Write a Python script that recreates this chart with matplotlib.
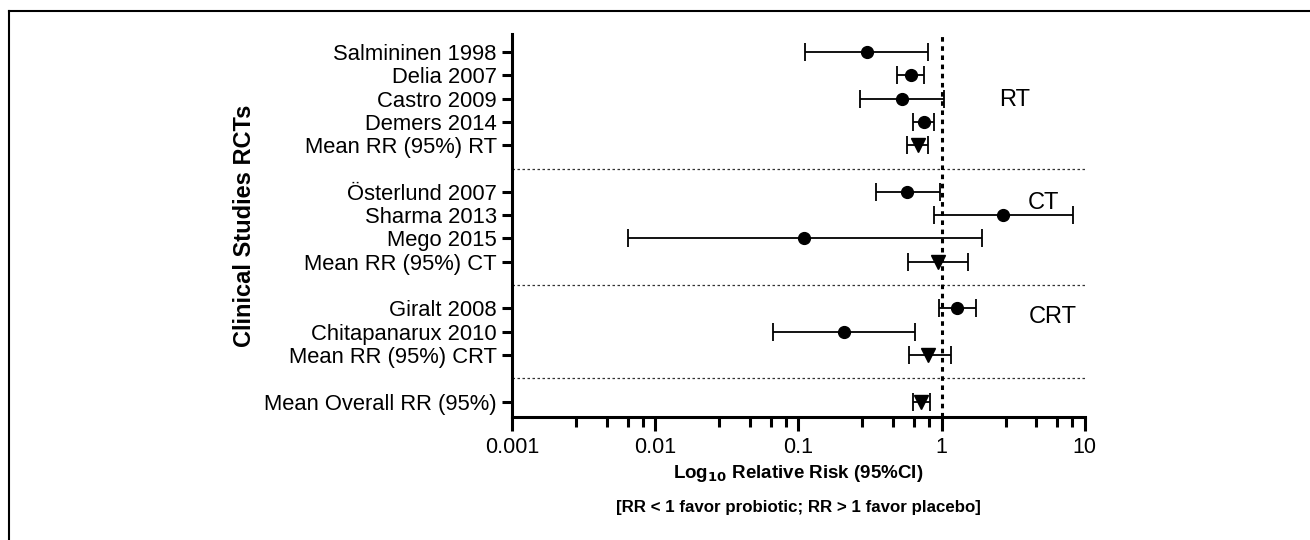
import matplotlib
matplotlib.use("Agg")
import matplotlib.pyplot as plt
import numpy as np
from matplotlib.lines import Line2D
from matplotlib.ticker import FixedLocator, NullFormatter

plt.rcParams['font.family'] = ['Liberation Sans', 'DejaVu Sans']

# --- Study data (RR, lower CI, upper CI) ---
studies = ["Salmininen 1998", "Delia 2007", "Castro 2009", "Demers 2014", "Mean RR (95%) RT",
           "Österlund 2007", "Sharma 2013", "Mego 2015", "Mean RR (95%) CT",
           "Giralt 2008", "Chitapanarux 2010", "Mean RR (95%) CRT",
           "Mean Overall RR (95%)"]
rows = [0, 1, 2, 3, 4, 6, 7, 8, 9, 11, 12, 13, 15]
rr = [0.30, 0.61, 0.53, 0.75, 0.69,
      0.57, 2.7, 0.11, 0.95,
      1.28, 0.207, 0.81,
      0.72]
ci_low = [0.112, 0.49, 0.27, 0.63, 0.57,
          0.35, 0.89, 0.0064, 0.585,
          0.96, 0.066, 0.59,
          0.63]
ci_high = [0.80, 0.75, 1.04, 0.89, 0.81,
           0.98, 8.3, 1.92, 1.52,
           1.73, 0.65, 1.16,
           0.83]
is_mean = [False, False, False, False, True,
           False, False, False, True,
           False, False, True,
           True]
separators = [5, 10, 14]
group_labels = ["RT", "CT", "CRT"]
group_label_pos = [(2.54, 2.06), (3.98, 6.49), (4.05, 11.39)]

fig = plt.figure(figsize=(13.1, 5.4), dpi=100)
ax = fig.add_axes([0.391, 0.227, 0.437, 0.71])

rr = np.array(rr)
lo = rr - np.array(ci_low)
hi = np.array(ci_high) - rr

for i in range(len(rows)):
    ax.errorbar(rr[i], rows[i], xerr=[[lo[i]], [hi[i]]],
                fmt='v' if is_mean[i] else 'o', color='black',
                markersize=10 if is_mean[i] else 8.5,
                elinewidth=1.3, capsize=6.5, capthick=1.3, zorder=3)

# reference line at RR = 1
ax.axvline(1, color='black', linestyle=(0, (1.5, 1.5)), linewidth=2.2, zorder=2)

# group separators
for s in separators:
    ax.axhline(s, color='#333333', linestyle=(0, (2, 2)), linewidth=0.9, zorder=1)

for lab, (gx, gy) in zip(group_labels, group_label_pos):
    ax.text(gx, gy, lab, fontsize=17, ha='left', va='center')

ax.set_xscale('log')
ax.set_xlim(0.001, 10)
ax.set_ylim(15.68, -0.77)
ax.set_yticks(rows)
ax.set_yticklabels(studies, fontsize=15.8)
ax.set_xticks([0.001, 0.01, 0.1, 1, 10])
ax.set_xticklabels(["0.001", "0.01", "0.1", "1", "10"], fontsize=15.5)
minors = []
for d in [0.001, 0.01, 0.1, 1]:
    minors += [d * m for m in [2.8, 4.6, 6.4, 8.2]]
ax.xaxis.set_minor_locator(FixedLocator(minors))
ax.xaxis.set_minor_formatter(NullFormatter())

ax.spines['top'].set_visible(False)
ax.spines['right'].set_visible(False)
ax.spines['left'].set_linewidth(2.2)
ax.spines['bottom'].set_linewidth(2.2)
ax.tick_params(axis='y', length=7, width=2.2, pad=4)
ax.tick_params(axis='x', which='major', length=10, width=2.2, pad=4)
ax.tick_params(axis='x', which='minor', length=7, width=2.2)

ax.text(0.5, -0.145, "Log$_{\\mathbf{10}}$ Relative Risk (95%CI)", transform=ax.transAxes,
        fontsize=13.5, fontweight='bold', ha='center', va='center')
ax.text(0.5, -0.235, "[RR < 1 favor probiotic; RR > 1 favor placebo]", transform=ax.transAxes,
        fontsize=12.2, fontweight='bold', ha='center', va='center')
ax.set_ylabel("Clinical Studies RCTs", fontsize=17, fontweight='bold', labelpad=6)

# figure frame (top and left edges)
fig.add_artist(Line2D([0.0069, 1.0], [0.9796, 0.9796], color='black', linewidth=1.5,
                      transform=fig.transFigure))
fig.add_artist(Line2D([0.0069, 0.0069], [0.0, 0.9796], color='black', linewidth=1.5,
                      transform=fig.transFigure))

fig.savefig("out.png", dpi=100)
